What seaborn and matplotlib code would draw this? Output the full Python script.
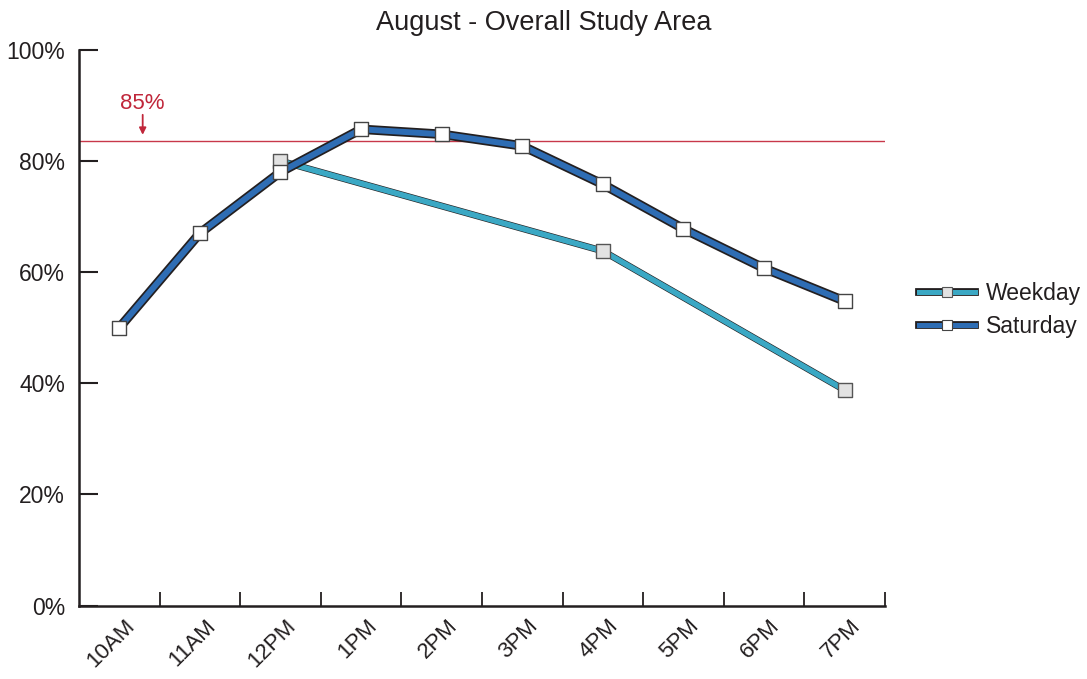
import numpy as np
import pandas as pd
import matplotlib
matplotlib.use("Agg")
import matplotlib.pyplot as plt
import matplotlib.patheffects as pe
import matplotlib.transforms as mtransforms
from matplotlib.lines import Line2D
import seaborn as sns

hours = ["10AM", "11AM", "12PM", "1PM", "2PM", "3PM", "4PM", "5PM", "6PM", "7PM"]
saturday = [50, 67, 78, 85.7, 84.8, 82.7, 75.8, 67.8, 60.7, 54.8]
weekday_hours = ["12PM", "4PM", "7PM"]
weekday = [80, 63.8, 38.8]
target_label = "85%"
target_value = 83.6
yticks = [0, 20, 40, 60, 80, 100]

sns.set_theme(style="white")
plt.rcParams["font.family"] = ["Liberation Sans", "DejaVu Sans"]

pos = {h: i + 0.5 for i, h in enumerate(hours)}
df_sat = pd.DataFrame({"x": [pos[h] for h in hours], "y": saturday})
df_wk = pd.DataFrame({"x": [pos[h] for h in weekday_hours], "y": weekday})

fig = plt.figure(figsize=(10.87, 6.79), dpi=100)
ax = fig.add_axes([0.0727, 0.108, 0.7413, 0.8187])

wk_color = "#3BA8C4"
sat_color = "#2E6DB4"
ink = "#231f20"

wk_pe = [pe.Stroke(linewidth=4.9, foreground=ink), pe.Normal()]
sat_pe = [pe.Stroke(linewidth=6.8, foreground=ink), pe.Normal()]

# lines
sns.lineplot(data=df_wk, x="x", y="y", ax=ax, color=wk_color, lw=4.0,
             estimator=None, sort=False, zorder=3, path_effects=wk_pe)
sns.lineplot(data=df_sat, x="x", y="y", ax=ax, color=sat_color, lw=4.3,
             estimator=None, sort=False, zorder=4, path_effects=sat_pe)
# markers
sns.scatterplot(data=df_wk, x="x", y="y", ax=ax, marker="s", s=100,
                color="#E2E2E2", edgecolor="#555555", linewidth=1.0, zorder=5)
sns.scatterplot(data=df_sat, x="x", y="y", ax=ax, marker="s", s=100,
                color="white", edgecolor="#444444", linewidth=1.0, zorder=6)

ax.axhline(target_value, color="#C8384A", lw=1.0, zorder=2)
ax.text(0.79, 90.4, target_label, ha="center", va="center", color="#C0263A",
        fontsize=16)
ax.annotate("", xy=(0.79, 84.7), xytext=(0.79, 88.3),
            arrowprops=dict(arrowstyle="-|>", color="#C0263A", lw=1.3,
                            mutation_scale=10, shrinkA=0, shrinkB=0))

ax.set_xlim(0, 10.0)
ax.set_ylim(0, 100)
ax.set_xlabel("")
ax.set_ylabel("")

ax.set_yticks(yticks)
ax.set_yticklabels([f"{v}%" for v in yticks], fontsize=16.5)
ax.tick_params(axis="y", direction="in", length=14, width=1.5, color=ink,
               left=True, pad=10, labelcolor=ink)

ax.set_xticks([pos[h] for h in hours])
ax.set_xticklabels(hours, rotation=45, ha="right", rotation_mode="anchor",
                   fontsize=16, color=ink)
ax.tick_params(axis="x", which="major", length=0, pad=7)
offset = mtransforms.ScaledTranslation(5 / 100, 0, fig.dpi_scale_trans)
for lbl in ax.get_xticklabels():
    lbl.set_transform(lbl.get_transform() + offset)
ax.set_xticks(np.arange(1, 11), minor=True)
ax.tick_params(axis="x", which="minor", direction="in", length=10, width=1.3,
               color=ink, bottom=True)

for s in ["top", "right"]:
    ax.spines[s].set_visible(False)
for s in ["left", "bottom"]:
    ax.spines[s].set_color(ink)
    ax.spines[s].set_linewidth(1.8)

ax.set_title("August - Overall Study Area", fontsize=19.5, color=ink, pad=14,
             x=(543.5 - 79) / 806)

# legend handles
h_wk = (Line2D([], [], color=wk_color, lw=3.6, solid_capstyle="projecting",
               path_effects=[pe.Stroke(linewidth=5.6, foreground=ink), pe.Normal()]),
        Line2D([], [], ls="none", marker="s", markersize=7, markerfacecolor="#E2E2E2",
               markeredgecolor="#555555", markeredgewidth=0.8))
h_sat = (Line2D([], [], color=sat_color, lw=3.6, solid_capstyle="projecting",
                path_effects=[pe.Stroke(linewidth=5.6, foreground=ink), pe.Normal()]),
         Line2D([], [], ls="none", marker="s", markersize=7, markerfacecolor="white",
                markeredgecolor="#444444", markeredgewidth=0.8))
leg = ax.legend([h_wk, h_sat], ["Weekday", "Saturday"], loc="center left",
                bbox_to_anchor=(1.022, 0.532), frameon=False, borderpad=0.2,
                fontsize=16.5, handlelength=2.45, handletextpad=0.5, labelspacing=0.45)
for t in leg.get_texts():
    t.set_color(ink)

fig.savefig("out.png", dpi=100)
